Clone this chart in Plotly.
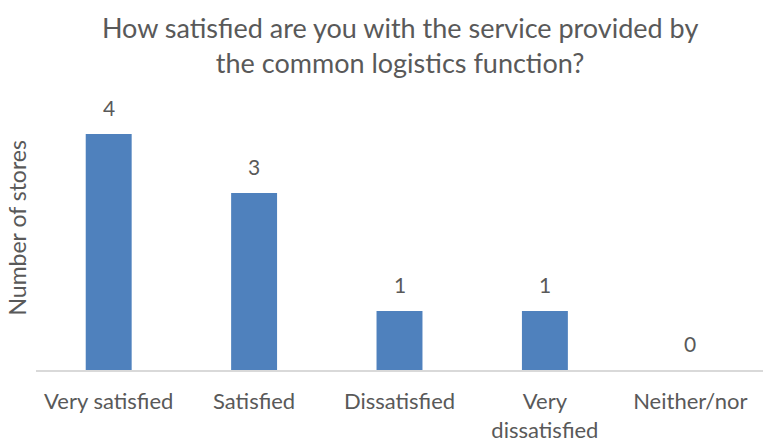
import plotly.graph_objects as go

categories = ["Very satisfied", "Satisfied", "Dissatisfied", "Very<br>dissatisfied", "Neither/nor"]
stores = [4, 3, 1, 1, 0]

FONT = "Lato"
GREY = "#595959"

fig = go.Figure(
    go.Bar(
        x=categories,
        y=stores,
        marker=dict(color="#4F81BD", line=dict(width=0)),
        width=0.316,
        hoverinfo="skip",
    )
)

# value labels above each bar
for cat, val in zip(categories, stores):
    fig.add_annotation(
        x=cat, y=val, text=str(val), showarrow=False,
        yanchor="middle", yshift=27,
        font=dict(family=FONT, size=21, color=GREY),
    )

# rotated axis title
fig.add_annotation(
    xref="paper", yref="paper", x=-0.026, y=0.48,
    text="Number of stores", textangle=-90, showarrow=False,
    xanchor="center", yanchor="middle",
    font=dict(family=FONT, size=23, color=GREY),
)

fig.update_layout(
    width=765, height=444,
    margin=dict(l=36, r=2, t=75, b=74),
    paper_bgcolor="white", plot_bgcolor="white",
    showlegend=False,
    title=dict(
        text="How satisfied are you with the service provided by<br>the common logistics function?",
        x=0.523, xanchor="center", y=0.915, yanchor="middle",
        font=dict(family=FONT, size=27, color=GREY),
    ),
    xaxis=dict(
        showline=True, linecolor="#D9D9D9", linewidth=1.5,
        ticks="", tickfont=dict(family=FONT, size=22, color=GREY),
        ticklabelstandoff=11,
        showgrid=False,
    ),
    yaxis=dict(
        range=[0, 5], showticklabels=False, showgrid=False,
        zeroline=False, showline=False, ticks="",
    ),
)

fig.write_html("out.html")
